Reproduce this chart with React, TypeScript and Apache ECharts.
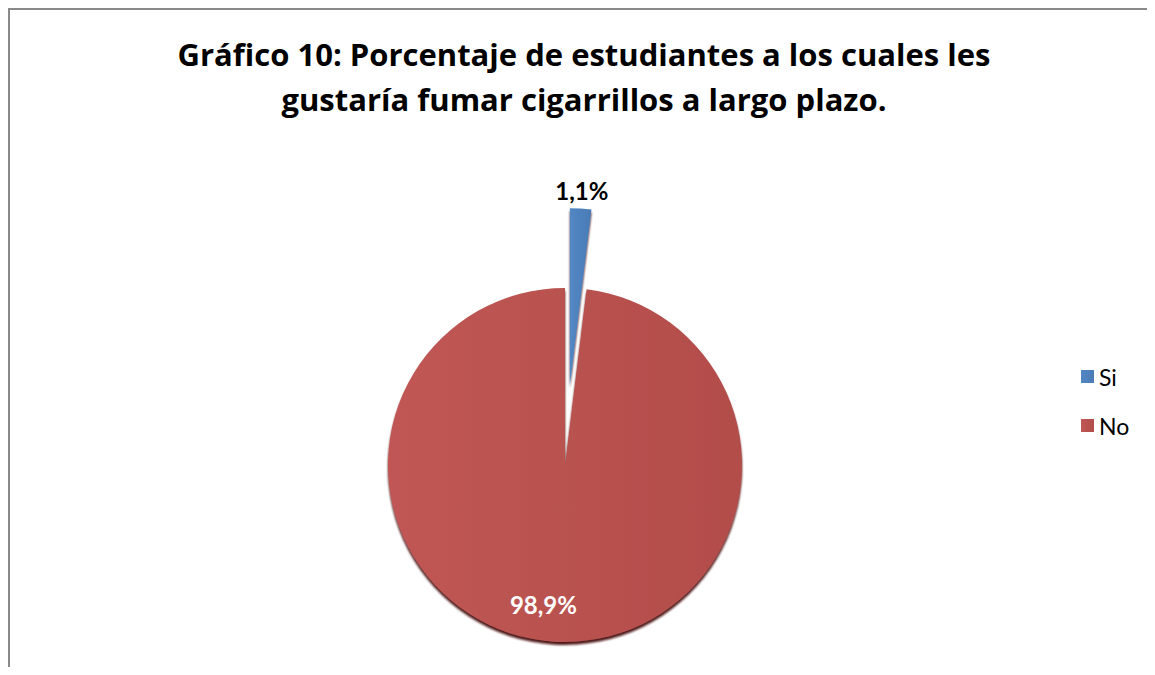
import React, { useEffect, useRef } from "react";
import * as echarts from "echarts";

const titleLines = [
  "Gráfico 10: Porcentaje de estudiantes a los cuales les",
  "gustaría fumar cigarrillos a largo plazo.",
];
const categories = ["Si", "No"];
const values = [1.1, 98.9];

export default function App() {
  const ref = useRef<HTMLDivElement>(null);
  useEffect(() => {
    if (!ref.current) return;
    const chart = echarts.init(ref.current, undefined, { renderer: "svg" });
    const gradients = [
      new echarts.graphic.LinearGradient(0, 0, 1, 0, [
        { offset: 0, color: "#5287C4" },
        { offset: 1, color: "#4A7BB6" },
      ]),
      new echarts.graphic.LinearGradient(0, 0, 1, 0, [
        { offset: 0, color: "#C05754" },
        { offset: 1, color: "#B24D4A" },
      ]),
    ];
    chart.setOption({
      animation: false,
      title: {
        text: titleLines.join("\n"),
        left: 569,
        top: 16,
        textAlign: "center",
        textStyle: {
          fontFamily: "Open Sans",
          fontWeight: "bold",
          fontSize: 31,
          lineHeight: 45,
          color: "#000",
        },
      },
      legend: {
        orient: "vertical",
        left: 1066,
        top: 350,
        itemWidth: 13,
        itemHeight: 13,
        itemGap: 26,
        icon: "rect",
        data: categories,
        textStyle: { fontFamily: "Lato", fontSize: 23, color: "#000" },
      },
      series: [
        {
          type: "pie",
          center: [555, 455],
          radius: 177,
          startAngle: 90,
          clockwise: true,
          minAngle: 7,
          selectedMode: "multiple",
          selectedOffset: 80,
          data: categories.map((c, i) => ({
            name: c,
            value: values[i],
            selected: i === 0,
            itemStyle: { color: gradients[i] },
            label:
              i === 0
                ? { position: "outside", color: "#000" }
                : { position: "inside", color: "#fff" },
          })),
          itemStyle: {
            borderWidth: 0,
            shadowColor: "rgba(70,15,15,0.95)",
            shadowOffsetY: 3,
            shadowBlur: 2,
          },
          label: {
            show: true,
            fontFamily: "Lato",
            fontWeight: "bold",
            fontSize: 24,
            distanceToLabelLine: 0,
            formatter: (p: any) =>
              p.value.toFixed(1).replace(".", ",") + "%",
          },
          labelLine: { show: false, length: 18, length2: 0 },
          labelLayout: (p: any) =>
            p.dataIndex === 0
              ? { align: "center" }
              : { dx: -16, dy: 48 },
          emphasis: { disabled: true },
        },
      ],
    });
    return () => chart.dispose();
  }, []);
  return (
    <div
      ref={ref}
      style={{
        width: 1139,
        height: 659,
        boxSizing: "border-box",
        borderLeft: "2px solid #8a8a8a",
        borderTop: "2px solid #8a8a8a",
      }}
    />
  );
}
